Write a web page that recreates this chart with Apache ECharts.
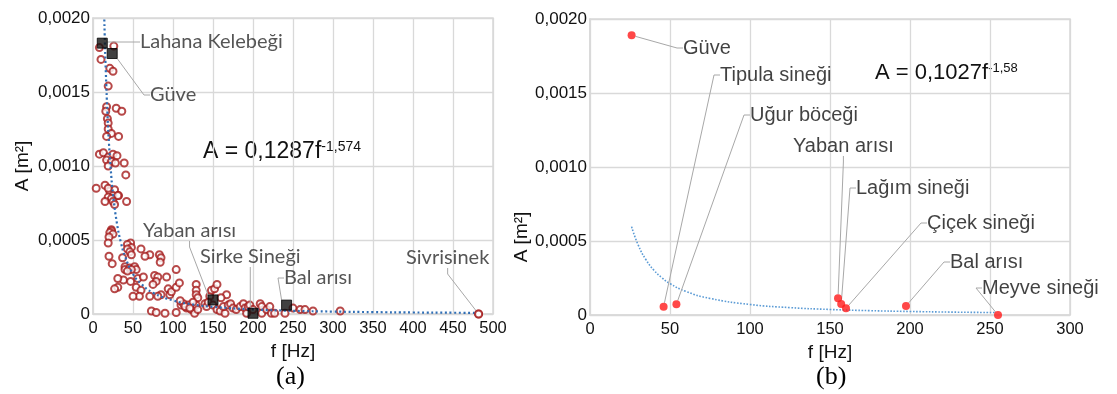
<!DOCTYPE html>
<html><head><meta charset="utf-8">
<script src="https://cdn.jsdelivr.net/npm/echarts@6/dist/echarts.min.js"></script>
<style>html,body{margin:0;padding:0;background:#fff}#c{width:1117px;height:394px}</style>
</head><body><div id="c"></div>
<script>
// ---------- DATA ----------
const yTickLabels = ['0', '0,0005', '0,0010', '0,0015', '0,0020'];

// (a) all insects: [f (Hz), A (m^2)]
const leftPointsF = [8,10,21,25,26,19,17,29,36,16,18,19,19,23,32,17,
  8,13,19,25,30,17,23,28,39,19,41,
  4,15,21,27,32,19,25,31,19,23,15,25,42,27,
  23,23,21,25,20,19,
  47,43,48,43,46,48,
  60,71,65,83,85,84,
  20,37,24,40,40,46,52,54,48,43,38,31,
  31,27,47,56,63,54,60,77,81,79,75,92,104,94,85,81,96,98,104,108,58,50,71,
  73,79,90,104,110,
  119,117,123,129,129,129,129,127,
  131,125,113,109,115,121,131,140,142,146,148,152,155,144,150,155,159,165,163,169,167,160,172,175,179,184,188,190,192,194,196,200,209,211,211,217,223,221,227,240,250,259,265,275,309,482];
const leftPointsA = [0.0018,0.00172,0.00166,0.00164,0.00181,0.00154,0.0014,0.00139,0.00137,0.00137,0.00132,0.00129,0.00125,0.00122,0.0012,0.0012,
  0.00108,0.00109,0.00106,0.00108,0.00107,0.00104,0.00103,0.00102,0.00102,0.001,0.00094,
  0.00085,0.00087,0.00083,0.00084,0.0008,0.00085,0.0008,0.0008,0.00079,0.00078,0.00076,0.00076,0.00076,0.00074,
  0.00057,0.00056,0.00055,0.00054,0.00052,0.00048,
  0.00048,0.00047,0.00045,0.00044,0.00042,0.0004,
  0.00044,0.0004,0.00039,0.0004,0.00038,0.00035,
  0.00039,0.00038,0.00034,0.00032,0.0003,0.00031,0.00032,0.0003,0.0003,0.00029,0.00023,0.00024,
  0.00018,0.00017,0.00022,0.00024,0.00025,0.00018,0.00016,0.00026,0.00025,0.00022,0.0002,0.00025,0.0003,0.00017,0.00013,0.00012,0.00013,0.00015,0.00018,0.00021,0.00012,0.00012,0.00012,
  0.00002,0.00001,0.000005,0.00001,0.00006,
  0.00006,0.00004,0.00003,0.0002,0.00016,0.00013,0.00006,0.000005,
  0.00011,0.00008,0.00007,0.00009,0.00005,0.00004,0.00003,0.00007,0.00005,0.00012,0.00016,0.00017,0.0002,0.00008,0.00006,0.00003,0.00002,0.000005,0.00005,0.00006,0.00013,0.00011,0.00007,0.00004,0.00003,0.00005,0.00007,0.00004,0.000005,0.00005,0.00006,0.00003,0.00007,0.00005,0.000005,0.00003,0.000005,0.00005,0.000005,0.000005,0.00004,0.00003,0.00003,0.00002,0.00002,0];

// (a) named insects
const leftNames = ['Lahana Kelebeği', 'Güve', 'Yaban arısı', 'Sirke Sineği', 'Bal arısı', 'Sivrisinek'];
const leftNamedF = [11.6, 24, 150, 200, 242, 482];
const leftNamedA = [0.00183, 0.00176, 0.000095, 0.000005, 0.00006, 0];

// (a) fitted curve: A = 0,1287 f^-1,574
const leftTrendF = [14, 15, 16, 18, 20, 22, 25, 30, 35, 40, 50, 60, 75, 100, 125, 150, 200, 250, 300, 350, 400, 450, 480];
const leftTrendA = [0.00202, 0.00181, 0.00164, 0.00136, 0.00115, 0.00099, 0.00081, 0.00061, 0.00048, 0.00039, 0.00027, 0.000205, 0.000144, 0.0000915, 0.0000644, 0.0000484, 0.0000308, 0.0000216, 0.0000163, 0.0000127, 0.0000103, 0.0000086, 0.0000077];

// (b) named insects
const rightNames = ['Güve', 'Tipula sineği', 'Uğur böceği', 'Yaban arısı', 'Lağım sineği', 'Çiçek sineği', 'Bal arısı', 'Meyve sineği'];
const rightF = [26, 46, 54, 155, 157, 160, 197.5, 255];
const rightA = [0.00189, 0.000056, 0.000072, 0.000113, 0.000074, 0.000045, 0.000061, 0];

// (b) fitted curve: A = 0,1027 f^-1,58
const rightTrendF = [26, 30, 35, 40, 45, 50, 60, 75, 100, 125, 150, 175, 200, 225, 253];
const rightTrendA = [0.000597, 0.000476, 0.000373, 0.000302, 0.000251, 0.000212, 0.000159, 0.000112, 0.0000711, 0.0000499, 0.0000374, 0.0000293, 0.0000238, 0.0000197, 0.0000164];

// ---------- LAYOUT (label anchor positions, px) ----------
const leftLabelPos = [[140, 42], [150, 95], [143, 231], [200, 257], [284, 278], [406, 258]];
const rightLabelPos = [[683, 48], [720, 75], [750, 115], [793, 146], [856, 188], [927, 223], [950, 262], [982, 288]];

const zip = (a, b) => a.map((v, i) => [v, b[i]]);
const yFmt = v => yTickLabels[Math.round(v / 0.0005)] ?? '';
const grey = '#d9d9d9';
const circleRed = '#a51c1c';

function axisX(gi, max) {
  return {
    gridIndex: gi, type: 'value', min: 0, max: max, interval: 50,
    name: 'f [Hz]', nameLocation: 'middle', nameGap: 26,
    nameTextStyle: { fontFamily: 'Liberation Sans', fontSize: 19, color: '#111' },
    axisLine: { show: true, lineStyle: { color: grey, width: 1.5 } },
    axisTick: { show: false },
    axisLabel: { fontFamily: 'Liberation Sans', fontSize: 16.5, color: '#111', margin: 6 },
    splitLine: { show: true, lineStyle: { color: grey, width: 1.3 } }
  };
}
function axisY(gi, gap, pad) {
  return {
    gridIndex: gi, type: 'value', min: 0, max: 0.002, interval: 0.0005,
    name: 'A [m²]', nameLocation: 'middle', nameGap: gap,
    nameTextStyle: { fontFamily: 'Liberation Sans', fontSize: 19, color: '#111', padding: pad },
    axisLine: { show: true, lineStyle: { color: grey, width: 1.5 } },
    axisTick: { show: false },
    axisLabel: { fontFamily: 'Liberation Sans', fontSize: 17, color: '#111', margin: 3, formatter: yFmt },
    splitLine: { show: true, lineStyle: { color: grey, width: 1.3 } }
  };
}
const labelLine = { show: true, length2: 6, lineStyle: { color: '#a8a8a8', width: 1 } };

const option = {
  animation: false,
  backgroundColor: '#fff',
  grid: [
    { left: 93, top: 18, width: 400, height: 296, show: true, borderColor: grey, borderWidth: 1.5 },
    { left: 590, top: 19, width: 480, height: 296, show: true, borderColor: grey, borderWidth: 1.5 }
  ],
  xAxis: [axisX(0, 500), axisX(1, 300)],
  yAxis: [axisY(0, 61, [0, 0, 0, 0]), axisY(1, 58, [0, 140, 0, 0])],
  series: [
    {
      type: 'scatter', xAxisIndex: 0, yAxisIndex: 0,
      data: zip(leftPointsF, leftPointsA),
      symbol: 'emptyCircle', symbolSize: 7,
      itemStyle: { color: circleRed, borderWidth: 1.8 },
      z: 2
    },
    {
      type: 'scatter', xAxisIndex: 0, yAxisIndex: 0,
      data: leftNames.map((n, i) => ({
        name: n, value: [leftNamedF[i], leftNamedA[i]],
        symbol: n === 'Sivrisinek' ? 'emptyCircle' : 'rect',
        symbolSize: n === 'Sivrisinek' ? 7 : 10,
        itemStyle: n === 'Sivrisinek'
          ? { color: circleRed, borderWidth: 1.8 }
          : { color: '#111', borderColor: '#000', borderWidth: 1 }
      })),
      label: { show: true, formatter: '{b}', fontFamily: 'Lato', fontSize: 20, color: '#2b2b2b' },
      labelLine: labelLine,
      labelLayout: p => ({ x: leftLabelPos[p.dataIndex][0], y: leftLabelPos[p.dataIndex][1], align: 'left', verticalAlign: 'middle' }),
      z: 4
    },
    {
      type: 'line', xAxisIndex: 0, yAxisIndex: 0,
      data: zip(leftTrendF, leftTrendA), smooth: true, showSymbol: false,
      lineStyle: { color: '#2f6eb5', width: 2.2, type: [2, 2.6] }, z: 3
    },
    {
      type: 'line', xAxisIndex: 1, yAxisIndex: 1,
      data: zip(rightTrendF, rightTrendA), smooth: true, showSymbol: false,
      lineStyle: { color: '#5b9bd5', width: 1.6, type: [1.6, 1.6] }, z: 3
    },
    {
      type: 'scatter', xAxisIndex: 1, yAxisIndex: 1,
      data: rightNames.map((n, i) => ({ name: n, value: [rightF[i], rightA[i]] })),
      symbol: 'circle', symbolSize: 8,
      itemStyle: { color: '#ff1a1a' },
      label: { show: true, formatter: '{b}', fontFamily: 'Liberation Sans', fontSize: 20, color: '#111' },
      labelLine: labelLine,
      labelLayout: p => ({ x: rightLabelPos[p.dataIndex][0], y: rightLabelPos[p.dataIndex][1], align: 'left', verticalAlign: 'middle' }),
      z: 4
    }
  ],
  graphic: [
    { type: 'text', left: 203, top: 140, style: {
        text: '{m|A = 0,1287f}{s|-1,574}',
        rich: { m: { fontFamily: 'Liberation Sans', fontSize: 23, fill: '#111', verticalAlign: 'bottom' },
                s: { fontFamily: 'Liberation Sans', fontSize: 14, fill: '#111', verticalAlign: 'top' } } } },
    { type: 'text', left: 875, top: 62, style: {
        text: '{m|A = 0,1027f}{s|-1,58}',
        rich: { m: { fontFamily: 'Liberation Sans', fontSize: 22, fill: '#111', verticalAlign: 'bottom' },
                s: { fontFamily: 'Liberation Sans', fontSize: 13, fill: '#111', verticalAlign: 'top' } } } },
    { type: 'text', left: 276, top: 364, style: { text: '(a)', fontFamily: 'Liberation Serif', fontSize: 26, fill: '#000' } },
    { type: 'text', left: 816, top: 364, style: { text: '(b)', fontFamily: 'Liberation Serif', fontSize: 26, fill: '#000' } }
  ]
};
const chart = echarts.init(document.getElementById('c'), null, { renderer: 'canvas' });
chart.setOption(option);
</script></body></html>
